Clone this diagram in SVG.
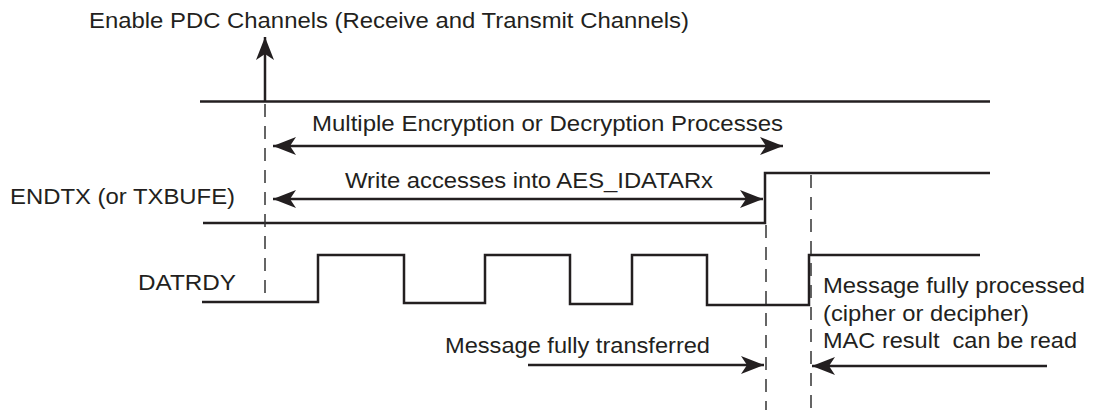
<svg xmlns="http://www.w3.org/2000/svg" width="1103" height="413" viewBox="0 0 1103 413">
<style>
text{font-family:"Liberation Sans",Arial,sans-serif;font-size:22px;fill:#231f20}
.sig{fill:none;stroke:#231f20;stroke-width:2.5}
.arr{fill:none;stroke:#231f20;stroke-width:2.5}
.dash{fill:none;stroke:#333;stroke-width:1.5;stroke-dasharray:13 9}
</style>
<defs>
<marker id="ah" markerUnits="userSpaceOnUse" markerWidth="26" markerHeight="22" viewBox="0 -11 26 22" refX="23" refY="0" orient="auto-start-reverse">
<path d="M0,-9 L23,0 L0,9 L6,0 z" fill="#231f20"/>
</marker>
</defs>
<g id="labels">
<text x="89" y="28" textLength="600" lengthAdjust="spacingAndGlyphs">Enable PDC Channels (Receive and Transmit Channels)</text>
<text x="10" y="204" textLength="225" lengthAdjust="spacingAndGlyphs">ENDTX (or TXBUFE)</text>
<text x="138" y="290" textLength="98" lengthAdjust="spacingAndGlyphs">DATRDY</text>
</g>
<g id="signals">
<path id="pdc" class="sig" d="M200,101.5 H990"/>
<path id="endtx" class="sig" d="M203,223 H765 V173 H990"/>
<path id="datrdy" class="sig" d="M202,302 H318 V255 H404 V303 H485 V255 H570 V304 H632 V255 H707 V305 H809 V255 H980"/>
</g>
<g id="connectors">
<path class="dash" d="M265,104 V302"/>
<path class="dash" d="M766,225 V410"/>
<path class="dash" d="M811,175 V412"/>
<path class="arr" d="M265,101 V37" marker-end="url(#ah)"/>
<path class="arr" d="M273,146 H783" marker-start="url(#ah)" marker-end="url(#ah)"/>
<path class="arr" d="M273,199 H763" marker-start="url(#ah)" marker-end="url(#ah)"/>
<path class="arr" d="M528,365 H764" marker-end="url(#ah)"/>
<path class="arr" d="M1047,366 H812" marker-end="url(#ah)"/>
</g>
<g id="annotations">
<text x="312" y="131" textLength="471" lengthAdjust="spacingAndGlyphs">Multiple Encryption or Decryption Processes</text>
<text x="345" y="188" textLength="368" lengthAdjust="spacingAndGlyphs">Write accesses into AES_IDATARx</text>
<text x="445" y="353" textLength="265" lengthAdjust="spacingAndGlyphs">Message fully transferred</text>
<text x="823" y="293" textLength="262" lengthAdjust="spacingAndGlyphs">Message fully processed</text>
<text x="823" y="321" textLength="206" lengthAdjust="spacingAndGlyphs">(cipher or decipher)</text>
<text x="823" y="348" textLength="254" lengthAdjust="spacingAndGlyphs" xml:space="preserve">MAC result  can be read</text>
</g>
</svg>
